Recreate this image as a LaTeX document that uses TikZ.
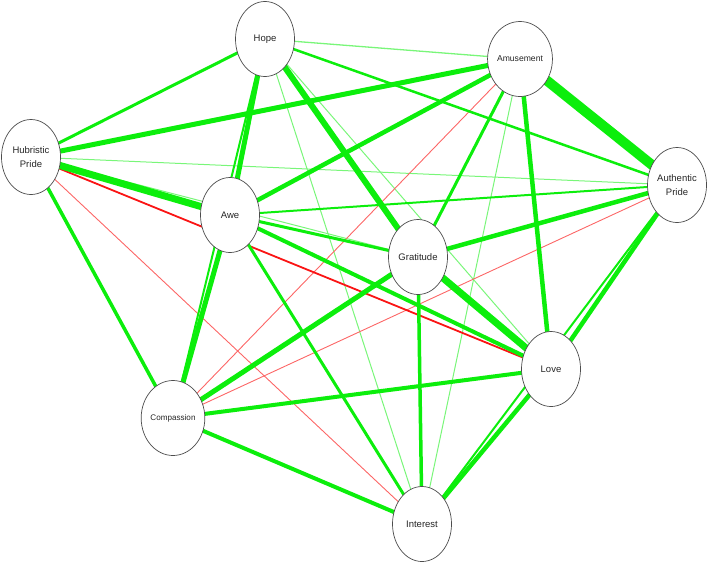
\documentclass[tikz,border=0pt]{standalone}
\usepackage{fontspec}
\setmainfont{Liberation Sans}
\usetikzlibrary{shapes.geometric}
\pgfdeclarelayer{background}
\pgfsetlayers{background,main}
\definecolor{eg}{RGB}{12,238,12}
\definecolor{er}{RGB}{250,20,20}
\tikzset{
  emo/.style={ellipse, draw=black!70, line width=0.7pt, fill=white,
    minimum width=59pt, minimum height=75pt, inner sep=0pt, align=center,
    text=black!85, font=\fontsize{9.5}{14}\selectfont},
  gedge/.style={draw=eg, line width=#1pt},
  ledge/.style={draw=eg!55, line width=#1pt},
  redge/.style={draw=er, line width=#1pt},
  lredge/.style={draw=er!65, line width=#1pt}
}
\begin{document}
\begin{tikzpicture}[x=1pt,y=-1pt]
\useasboundingbox (0,0) rectangle (708,563);
\node[emo] (hope) at (265,39) {Hope};
\node[emo, font=\fontsize{8.6}{12}\selectfont] (amu) at (520,59) {Amusement};
\node[emo] (hub) at (31,157) {Hubristic\\Pride};
\node[emo] (auth) at (677,185) {Authentic\\Pride};
\node[emo] (awe) at (230,215) {Awe};
\node[emo] (grat) at (418,257) {Gratitude};
\node[emo] (love) at (551,369) {Love};
\node[emo, font=\fontsize{8.1}{12}\selectfont] (comp) at (173,418) {Compassion};
\node[emo] (int) at (422,524) {Interest};
\begin{pgfonlayer}{background}
% thin light lines
\draw[ledge=1.3] (hope.center) -- (amu.center);
\draw[ledge=1] (hope.center) -- (love.center);
\draw[ledge=1] (hope.center) -- (int.center);
\draw[ledge=1] (hub.center) -- (auth.center);
\draw[ledge=1] (hub.center) -- (grat.center);
\draw[ledge=1] (amu.center) -- (int.center);
% red lines
\draw[lredge=0.9] (hub.center) -- (int.center);
\draw[lredge=0.9] (amu.center) -- (comp.center);
\draw[lredge=0.9] (auth.center) -- (comp.center);
\draw[redge=1.8] (hub.center) -- (love.center);
% green lines
\draw[gedge=2] (hope.center) -- (comp.center);
\draw[gedge=2] (auth.center) -- (awe.center);
\draw[gedge=2] (auth.center) -- (int.center);
\draw[gedge=2.5] (hope.center) -- (auth.center);
\draw[gedge=3] (hope.center) -- (hub.center);
\draw[gedge=3] (amu.center) -- (grat.center);
\draw[gedge=3] (awe.center) -- (grat.center);
\draw[gedge=3] (awe.center) -- (int.center);
\draw[gedge=3.5] (hub.center) -- (comp.center);
\draw[gedge=3.5] (grat.center) -- (int.center);
\draw[gedge=4] (awe.center) -- (love.center);
\draw[gedge=4] (comp.center) -- (int.center);
\draw[gedge=4] (comp.center) -- (love.center);
\draw[gedge=4.5] (amu.center) -- (awe.center);
\draw[gedge=4.5] (amu.center) -- (love.center);
\draw[gedge=4.5] (auth.center) -- (grat.center);
\draw[gedge=4.5] (auth.center) -- (love.center);
\draw[gedge=4.5] (love.center) -- (int.center);
\draw[gedge=5] (hub.center) -- (amu.center);
\draw[gedge=5] (hope.center) -- (awe.center);
\draw[gedge=5] (awe.center) -- (comp.center);
\draw[gedge=5] (grat.center) -- (comp.center);
\draw[gedge=6] (hope.center) -- (grat.center);
\draw[gedge=7] (hub.center) -- (awe.center);
\draw[gedge=7] (grat.center) -- (love.center);
\draw[gedge=10] (amu.center) -- (auth.center);
\end{pgfonlayer}
\end{tikzpicture}
\end{document}
